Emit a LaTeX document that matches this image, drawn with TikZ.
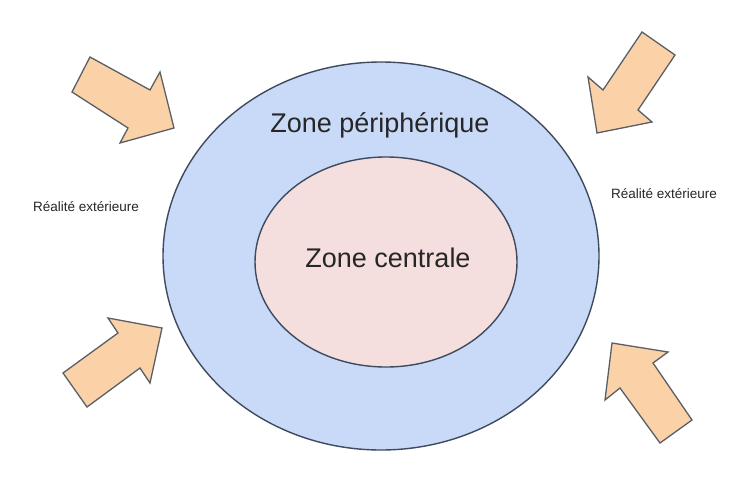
\documentclass[tikz,border=0pt]{standalone}
\usepackage{fontspec}
\setmainfont{Liberation Sans}
\usetikzlibrary{shapes.geometric}

\definecolor{bleuzone}{HTML}{C9DAF8}
\definecolor{rosezone}{HTML}{F4DEDE}
\definecolor{orangefleche}{HTML}{FBD2A8}
\definecolor{traitzone}{HTML}{3E4B5E}
\definecolor{traitfleche}{HTML}{5A5F66}

\tikzset{
    zonebox/.style={ellipse, draw=traitzone, line width=1.4pt, inner sep=0pt},
    fleche/.style={fill=orangefleche, draw=traitfleche, line width=1.3pt, line join=miter},
    zonetexte/.style={font=\fontsize{27}{30}\selectfont, text=black!85, anchor=base},
    legende/.style={font=\fontsize{13.5}{15}\selectfont, text=black!85, anchor=base}
}

\begin{document}
\begin{tikzpicture}[x=1pt,y=-1pt]
        % Fixed frame of the picture
        \useasboundingbox[fill=white] (0,0) rectangle (743,479);
        % Zones
        \node[zonebox, fill=bleuzone, minimum width=436pt, minimum height=388pt] (peripherie) at (381,256) {};
        \node[zonebox, fill=rosezone, minimum width=262pt, minimum height=210pt] (centre) at (386,262) {};
        % Labels of the zones
        \node[zonetexte] (tperipherie) at (380,132) {Zone périphérique};
        \node[zonetexte] (tcentre) at (388,267) {Zone centrale};
        \node[legende] (realitegauche) at (86,211) {Réalité extérieure};
        \node[legende] (realitedroite) at (664,198) {Réalité extérieure};
        % Arrows from outside
        \draw[fleche] (90,57) -- (150,90) -- (160,72) -- (174,128) -- (120,143) -- (128,128) -- (72,92) -- cycle;
        \draw[fleche] (642,32) -- (675,55) -- (638,110) -- (652,122) -- (597,133) -- (588,77) -- (603,90) -- cycle;
        \draw[fleche] (162,328) -- (150,383) -- (140,368) -- (87,407) -- (63,373) -- (118,333) -- (108,318) -- cycle;
        \draw[fleche] (612,343) -- (668,352) -- (653,363) -- (692,420) -- (660,443) -- (620,388) -- (605,400) -- cycle;
    \end{tikzpicture}
\end{document}
